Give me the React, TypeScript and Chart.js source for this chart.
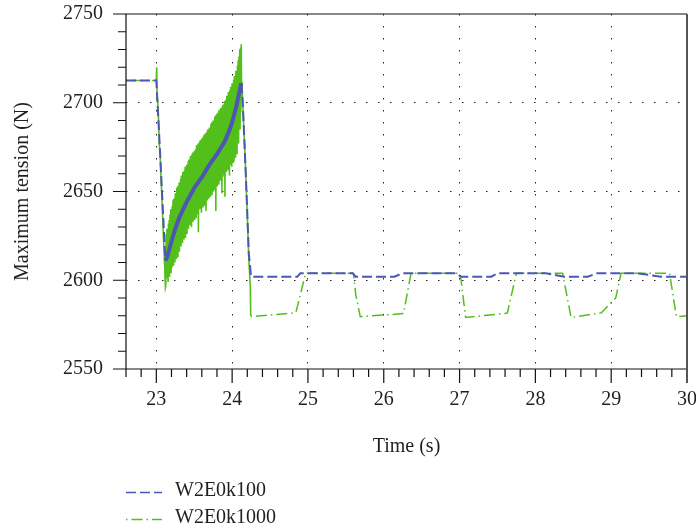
import React, { useEffect, useRef } from "react";
import { Chart, registerables } from "chart.js";

Chart.register(...registerables);

const X_TICKS = [23, 24, 25, 26, 27, 28, 29, 30];
const Y_TICKS = [2550, 2600, 2650, 2700, 2750];
const X_TITLE = "Time (s)";
const Y_TITLE = "Maximum tension (N)";
const SERIES_NAMES = ["W2E0k100", "W2E0k1000"];

// [time (s), tension (N)]
const W2E0K100: [number, number][] = [
  [22.6, 2712.5], [23.0, 2712.5], [23.04, 2680], [23.08, 2645], [23.12, 2611],
  [23.15, 2614], [23.2, 2622], [23.25, 2629], [23.3, 2635], [23.4, 2644],
  [23.5, 2652], [23.6, 2658], [23.7, 2665], [23.8, 2671], [23.9, 2678],
  [23.96, 2684], [24.0, 2689], [24.05, 2697], [24.09, 2705], [24.12, 2711],
  [24.14, 2700], [24.18, 2660], [24.22, 2615], [24.25, 2602],
  [24.86, 2602], [24.9, 2604], [25.59, 2604], [25.63, 2602],
  [26.14, 2602], [26.25, 2604], [26.95, 2604], [27.02, 2602],
  [27.42, 2602], [27.5, 2604], [28.14, 2604], [28.38, 2602],
  [28.69, 2602], [28.82, 2604], [29.33, 2604], [29.66, 2602], [30.0, 2602],
];

const W2E0K1000: [number, number][] = [
  [22.6, 2712.5], [23.0, 2712.5], [23.005, 2720], [23.01, 2704], [23.02, 2700],
  [23.03, 2690], [23.04, 2676], [23.05, 2672], [23.06, 2660], [23.07, 2650],
  [23.08, 2640], [23.09, 2628], [23.1, 2618], [23.11, 2608], [23.12, 2596],
  [23.125, 2597], [23.13, 2626], [23.135, 2601], [23.14, 2629], [23.145, 2604],
  [23.15, 2624], [23.155, 2599], [23.16, 2632], [23.165, 2605], [23.17, 2634],
  [23.175, 2602], [23.18, 2637], [23.185, 2609], [23.19, 2640], [23.195, 2604],
  [23.2, 2632], [23.205, 2607], [23.21, 2642], [23.215, 2611], [23.22, 2645],
  [23.225, 2608], [23.23, 2646], [23.235, 2615], [23.24, 2642], [23.245, 2610],
  [23.25, 2649], [23.255, 2617], [23.26, 2647], [23.265, 2612], [23.27, 2652],
  [23.275, 2618], [23.28, 2653], [23.285, 2613], [23.29, 2648], [23.295, 2620],
  [23.3, 2655], [23.305, 2616], [23.31, 2652], [23.315, 2622], [23.32, 2657],
  [23.325, 2619], [23.33, 2659], [23.335, 2625], [23.34, 2652], [23.345, 2621],
  [23.35, 2661], [23.355, 2627], [23.36, 2656], [23.365, 2623], [23.37, 2662],
  [23.375, 2628], [23.38, 2664], [23.385, 2624], [23.39, 2659], [23.395, 2630],
  [23.4, 2665], [23.405, 2626], [23.41, 2662], [23.415, 2632], [23.42, 2667],
  [23.425, 2629], [23.43, 2668], [23.435, 2635], [23.44, 2661], [23.445, 2631],
  [23.45, 2670], [23.455, 2637], [23.46, 2666], [23.465, 2630], [23.47, 2671],
  [23.475, 2636], [23.48, 2672], [23.485, 2633], [23.49, 2665], [23.495, 2639],
  [23.5, 2673], [23.505, 2634], [23.51, 2670], [23.515, 2640], [23.52, 2674],
  [23.525, 2635], [23.53, 2676], [23.535, 2641], [23.54, 2669], [23.545, 2637],
  [23.55, 2677], [23.555, 2627], [23.56, 2672], [23.565, 2642], [23.57, 2678],
  [23.575, 2640], [23.58, 2679], [23.585, 2645], [23.59, 2672], [23.595, 2638],
  [23.6, 2680], [23.605, 2646], [23.61, 2675], [23.615, 2641], [23.62, 2681],
  [23.625, 2647], [23.63, 2682], [23.635, 2642], [23.64, 2675], [23.645, 2648],
  [23.65, 2683], [23.655, 2639], [23.66, 2678], [23.665, 2649], [23.67, 2684],
  [23.675, 2645], [23.68, 2685], [23.685, 2651], [23.69, 2679], [23.695, 2646],
  [23.7, 2686], [23.705, 2652], [23.71, 2681], [23.715, 2647], [23.72, 2688],
  [23.725, 2653], [23.73, 2689], [23.735, 2648], [23.74, 2683], [23.745, 2655],
  [23.75, 2690], [23.755, 2650], [23.76, 2685], [23.765, 2656], [23.77, 2692],
  [23.775, 2651], [23.78, 2693], [23.785, 2639], [23.79, 2687], [23.795, 2657],
  [23.8, 2694], [23.805, 2653], [23.81, 2688], [23.815, 2659], [23.82, 2695],
  [23.825, 2654], [23.83, 2696], [23.835, 2660], [23.84, 2690], [23.845, 2656],
  [23.85, 2697], [23.855, 2662], [23.86, 2691], [23.865, 2649], [23.87, 2698],
  [23.875, 2658], [23.88, 2699], [23.885, 2663], [23.89, 2693], [23.895, 2659],
  [23.9, 2701], [23.905, 2647], [23.91, 2695], [23.915, 2664], [23.92, 2702],
  [23.925, 2661], [23.93, 2704], [23.935, 2667], [23.94, 2698], [23.945, 2662],
  [23.95, 2706], [23.955, 2669], [23.96, 2700], [23.965, 2659], [23.97, 2707],
  [23.975, 2665], [23.98, 2709], [23.985, 2670], [23.99, 2703], [23.995, 2664],
  [24.0, 2711], [24.005, 2672], [24.01, 2705], [24.015, 2666], [24.02, 2713],
  [24.025, 2667], [24.03, 2715], [24.035, 2675], [24.04, 2710], [24.045, 2669],
  [24.05, 2718], [24.055, 2679], [24.06, 2713], [24.065, 2671], [24.07, 2721],
  [24.075, 2683], [24.08, 2724], [24.085, 2677], [24.09, 2726], [24.095, 2689],
  [24.1, 2730], [24.105, 2685], [24.11, 2731], [24.115, 2695], [24.12, 2733],
  [24.125, 2704], [24.13, 2712], [24.14, 2700], [24.18, 2660], [24.22, 2612],
  [24.24, 2596], [24.245, 2580], [24.26, 2579.5], [24.84, 2581.7], [24.97, 2604],
  [25.6, 2604], [25.63, 2592], [25.69, 2579.5], [26.26, 2581.2], [26.36, 2604],
  [27.0, 2604], [27.02, 2600], [27.08, 2579], [27.63, 2581.5], [27.75, 2604],
  [28.36, 2604], [28.47, 2579], [28.87, 2581.7], [29.06, 2590], [29.13, 2604],
  [29.77, 2604], [29.86, 2579.5], [30.0, 2580],
];

const BLUE = "#4f55b5";
const GREEN = "#52bf1a";
const TEXT = "#231f20";
const FONT = "'Liberation Serif', 'DejaVu Serif', serif";

const framePlugin = {
  id: "frame",
  afterDraw(chart: any) {
    const { ctx, chartArea: a, scales } = chart;
    const x = scales.x;
    const y = scales.y;
    ctx.save();
    ctx.setLineDash([]);
    ctx.strokeStyle = "#111";
    ctx.lineWidth = 1.2;
    ctx.beginPath();
    ctx.moveTo(a.left, a.top);
    ctx.lineTo(a.left, a.bottom);
    ctx.moveTo(a.left - 13, a.bottom);
    ctx.lineTo(a.right, a.bottom);
    ctx.moveTo(a.left - 13, a.top);
    ctx.lineTo(a.right, a.top);
    for (const v of Y_TICKS) {
      const py = y.getPixelForValue(v);
      ctx.moveTo(a.left - 13, py);
      ctx.lineTo(a.left, py);
    }
    for (let v = Y_TICKS[0]; v <= Y_TICKS[Y_TICKS.length - 1]; v += 10) {
      const py = y.getPixelForValue(v);
      ctx.moveTo(a.left - 8, py);
      ctx.lineTo(a.left, py);
    }
    for (const v of X_TICKS) {
      const px = x.getPixelForValue(v);
      ctx.moveTo(px, a.bottom);
      ctx.lineTo(px, a.bottom + 14);
    }
    for (let i = 0; i <= 37; i++) {
      const v = 22.6 + i * 0.2;
      const px = x.getPixelForValue(v);
      ctx.moveTo(px, a.bottom);
      ctx.lineTo(px, a.bottom + 8);
    }
    ctx.stroke();

    ctx.strokeStyle = "#555";
    ctx.lineWidth = 2;
    ctx.beginPath();
    ctx.moveTo(a.right, a.top);
    ctx.lineTo(a.right, a.bottom + 14);
    ctx.stroke();

    // legend
    const items = [
      { name: SERIES_NAMES[0], color: BLUE, dash: [10, 4], ly: 492.5, ty: 490.5 },
      { name: SERIES_NAMES[1], color: GREEN, dash: [1.5, 4, 11, 4], ly: 519.5, ty: 518 },
    ];
    ctx.font = `20px ${FONT}`;
    ctx.textBaseline = "middle";
    ctx.textAlign = "left";
    for (const it of items) {
      ctx.strokeStyle = it.color;
      ctx.lineWidth = 1.5;
      ctx.setLineDash(it.dash);
      ctx.beginPath();
      ctx.moveTo(a.left, it.ly);
      ctx.lineTo(a.left + 36, it.ly);
      ctx.stroke();
      ctx.setLineDash([]);
      ctx.fillStyle = TEXT;
      ctx.fillText(it.name, a.left + 49, it.ty);
    }
    ctx.restore();
  },
};

export default function App() {
  const ref = useRef<HTMLCanvasElement | null>(null);

  useEffect(() => {
    if (!ref.current) return;
    Chart.defaults.font.family = FONT;
    Chart.defaults.font.size = 20;
    Chart.defaults.color = TEXT;

    const inBlueCurve = (c: any) => c.p0.parsed.x >= 23.12 && c.p1.parsed.x <= 24.12;
    const inGreenBand = (c: any) => c.p0.parsed.x >= 23.0 && c.p1.parsed.x <= 24.25;

    const chart = new Chart(ref.current, {
      type: "line",
      data: {
        datasets: [
          {
            label: SERIES_NAMES[0],
            data: W2E0K100.map(([t, v]) => ({ x: t, y: v })),
            borderColor: BLUE,
            borderWidth: 2,
            borderDash: [10, 4],
            pointRadius: 0,
            tension: 0,
            fill: false,
            segment: {
              borderDash: (c: any) => (inBlueCurve(c) ? [] : undefined),
              borderWidth: (c: any) => (inBlueCurve(c) ? 4 : undefined),
            },
          },
          {
            label: SERIES_NAMES[1],
            data: W2E0K1000.map(([t, v]) => ({ x: t, y: v })),
            borderColor: GREEN,
            borderWidth: 1.5,
            borderDash: [1.5, 4, 11, 4],
            pointRadius: 0,
            tension: 0,
            fill: false,
            segment: {
              borderDash: (c: any) => (inGreenBand(c) ? [] : undefined),
              borderWidth: (c: any) => (inGreenBand(c) ? 1.6 : undefined),
            },
          },
        ],
      },
      options: {
        animation: false,
        responsive: true,
        maintainAspectRatio: false,
        layout: { padding: { top: 14, right: 9, bottom: 72, left: 0 } },
        plugins: {
          legend: { display: false },
          tooltip: { enabled: false },
        },
        scales: {
          x: {
            type: "linear",
            min: 22.6,
            max: 30,
            afterBuildTicks: (s: any) => {
              s.ticks = X_TICKS.map((v) => ({ value: v }));
            },
            afterFit: (s: any) => {
              s.height = 90;
              s.paddingLeft = 0;
              s.paddingRight = 0;
            },
            ticks: {
              padding: 19,
              maxRotation: 0,
              autoSkip: false,
              color: TEXT,
              font: { size: 20, family: FONT },
              callback: (v: any) => String(v),
            },
            grid: {
              drawTicks: false,
              lineWidth: 1,
              color: (c: any) =>
                c.tick && (c.tick.value === 30 || c.tick.value === 22.6) ? "rgba(0,0,0,0)" : "#222",
            },
            border: { display: false, dash: [1.5, 10.5] },
            title: {
              display: true,
              text: X_TITLE,
              color: TEXT,
              font: { size: 20, family: FONT },
              padding: { top: 0, bottom: 0 },
            },
          },
          y: {
            type: "linear",
            min: 2550,
            max: 2750,
            afterBuildTicks: (s: any) => {
              s.ticks = Y_TICKS.map((v) => ({ value: v }));
            },
            afterFit: (s: any) => {
              s.width = 126;
              s.paddingTop = 0;
              s.paddingBottom = 0;
            },
            ticks: {
              padding: 23,
              color: TEXT,
              font: { size: 20, family: FONT },
              callback: (v: any) => String(v),
            },
            grid: {
              drawTicks: false,
              lineWidth: 1,
              color: (c: any) =>
                c.tick && (c.tick.value === 2550 || c.tick.value === 2750) ? "rgba(0,0,0,0)" : "#222",
            },
            border: { display: false, dash: [1.5, 10.5] },
            title: {
              display: true,
              text: Y_TITLE,
              color: TEXT,
              font: { size: 20, family: FONT },
              padding: { top: 11, bottom: 0 },
            },
          },
        },
      },
      plugins: [framePlugin],
    });
    return () => chart.destroy();
  }, []);

  return (
    <div style={{ position: "fixed", left: 0, top: 0, width: 696, height: 531 }}>
      <canvas ref={ref} />
    </div>
  );
}
